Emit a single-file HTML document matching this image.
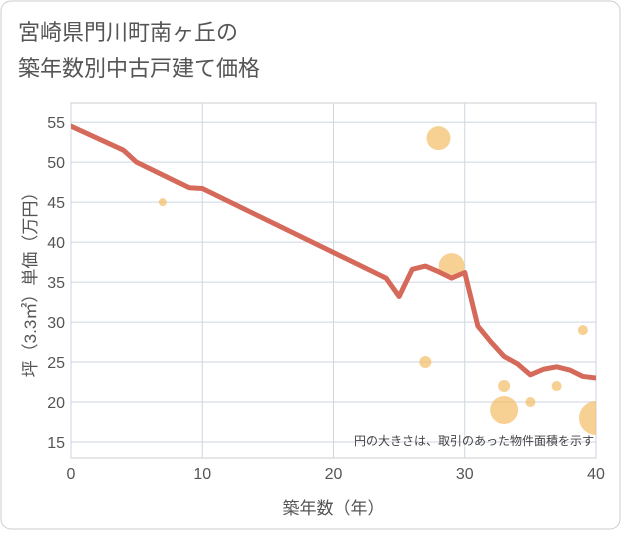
<!DOCTYPE html>
<html><head><meta charset="utf-8"><style>
body{margin:0;background:#fff;font-family:"Liberation Sans","Noto Sans CJK JP",sans-serif;}
#wrap{position:relative;width:621px;height:530px;}
</style></head><body>
<div id="wrap">
<svg id="svg" width="621" height="530" xmlns="http://www.w3.org/2000/svg">
<defs><clipPath id="clip"><rect x="71" y="103" width="525" height="355"/></clipPath></defs>
<rect x="1" y="1" width="619" height="528" rx="10" fill="#fff" stroke="#ccc"/>
<text x="18" y="40" font-size="22" fill="#555">宮崎県門川町南ヶ丘の</text>
<text x="18" y="76" font-size="22" fill="#555">築年数別中古戸建て価格</text>
<g id="plot"></g>
</svg></div>
<script>
const xTicks=[0,10,20,30,40];
const yTicks=[15,20,25,30,35,40,45,50,55];
const lineX=[0,4,5,9,10,24,25,26,27,28,29,30,31,32,33,34,35,36,37,38,39,40];
const lineY=[54.5,51.5,50,46.8,46.7,35.5,33.2,36.6,37,36.3,35.5,36.2,29.5,27.5,25.7,24.8,23.4,24.1,24.4,24,23.2,23];
const bubX=[7,28,29,27,33,33,35,37,39,40];
const bubY=[45,53,37,25,22,19,20,22,29,18];
const bubR=[4,12,13,6,6,14,5,5,5,17];
const L=71,R=596,T=103,B=458;
const sx=v=>L+(v-0)/40*(R-L);
const sy=v=>B-(v-13)/(57.4-13)*(B-T);
const NS='http://www.w3.org/2000/svg';
const g=document.getElementById('plot');
function el(t,a,p){const e=document.createElementNS(NS,t);for(const k in a)e.setAttribute(k,a[k]);(p||g).appendChild(e);return e;}
const bg=el('rect',{x:L,y:T,width:R-L,height:B-T,fill:'#fff',stroke:'#ccc'});


yTicks.forEach(v=>{
 const ln=el('line',{x1:L,x2:R,y1:sy(v),y2:sy(v),stroke:'#ccd6e0'});
 
 
 const t=el('text',{x:L-6,y:sy(v)+6,'text-anchor':'end','font-size':16,fill:'#555'});
 t.textContent=v;
 
 
});
xTicks.forEach(v=>{
 const ln=el('line',{x1:sx(v),x2:sx(v),y1:T,y2:B,stroke:'#ccd6e0'});
 
 
 const t=el('text',{x:sx(v),y:B+21,'text-anchor':'middle','font-size':16,fill:'#555'});
 t.textContent=v;
 
 
});
const cg=el('g',{'clip-path':'url(#clip)'});


bubX.forEach((x,i)=>{
 const c=el('circle',{cx:sx(x),cy:sy(bubY[i]),r:bubR[i],fill:'#f2b95a','fill-opacity':0.65},cg);
 
 
});
const pts=lineX.map((x,i)=>sx(x)+','+sy(lineY[i])).join(' ');
const pl=el('polyline',{points:pts,fill:'none',stroke:'#d66a5a','stroke-width':5,'stroke-linejoin':'round','stroke-linecap':'round'},cg);


const note=el('text',{x:R-2,y:B-13,'text-anchor':'end','font-size':12,fill:'#444'});
note.textContent='円の大きさは、取引のあった物件面積を示す';


const xt=el('text',{x:(L+R)/2,y:514,'text-anchor':'middle','font-size':17,fill:'#555'});
xt.textContent='築年数（年）';


const yt=el('text',{x:0,y:0,'text-anchor':'middle','font-size':17,fill:'#555',transform:'translate(36,'+((T+B)/2)+') rotate(-90)'});
yt.textContent='坪（3.3㎡）単価（万円）';


</script>
</body></html>
